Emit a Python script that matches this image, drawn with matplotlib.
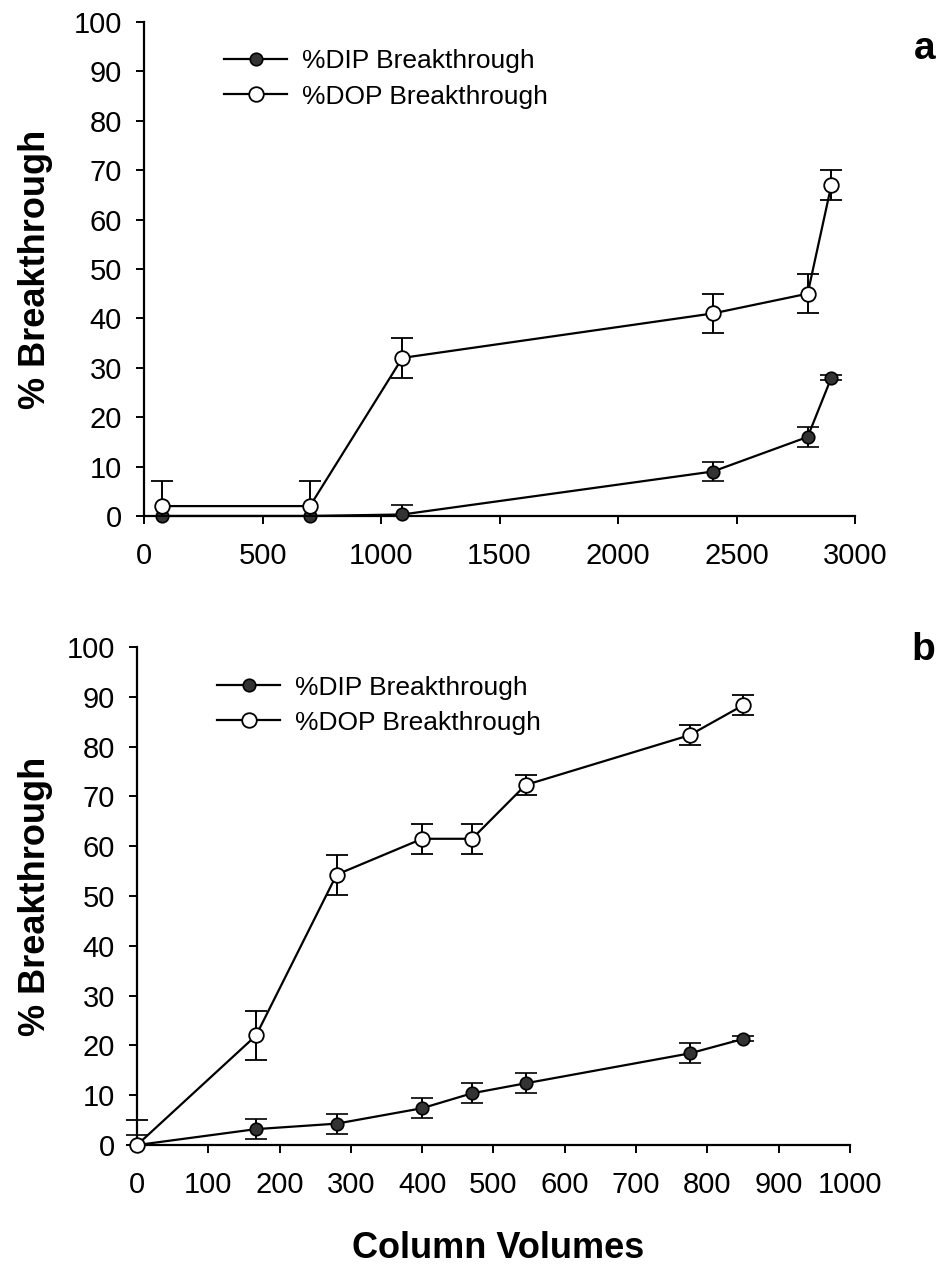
import matplotlib
matplotlib.use("Agg")
import matplotlib.pyplot as plt

# ---- data: panel a ----
a_x = [75, 700, 1090, 2400, 2800, 2900]
a_dip_y = [0, 0, 0.3, 9, 16, 28]
a_dip_err = [0, 0, 2, 2, 2, 0.5]
a_dop_y = [2, 2, 32, 41, 45, 67]
a_dop_err = [5, 5, 4, 4, 4, 3]

# ---- data: panel b ----
b_x = [0, 167, 280, 400, 470, 545, 775, 850]
b_dip_y = [0, 3.2, 4.3, 7.4, 10.4, 12.4, 18.4, 21.3]
b_dip_err = [2, 2, 2, 2, 2, 2, 2, 0.5]
b_dop_y = [0, 22, 54.3, 61.5, 61.5, 72.3, 82.3, 88.3]
b_dop_err = [5, 5, 4, 3, 3, 2, 2, 2]

a_xticks = [0, 500, 1000, 1500, 2000, 2500, 3000]
b_xticks = [0, 100, 200, 300, 400, 500, 600, 700, 800, 900, 1000]
yticks = [0, 10, 20, 30, 40, 50, 60, 70, 80, 90, 100]

labels = ["%DIP Breakthrough", "%DOP Breakthrough"]
ylabel = "% Breakthrough"
xlabel = "Column Volumes"

tickfont = "Liberation Sans"
boldfont = "Liberation Sans"

fig = plt.figure(figsize=(9.39, 12.64), dpi=100)
ax1 = fig.add_axes([0.1534, 0.5918, 0.7572, 0.3908])
ax2 = fig.add_axes([0.1459, 0.0941, 0.7593, 0.3940])


def style(ax, xlim, xticks, ylab_x):
    ax.set_xlim(*xlim)
    ax.set_ylim(0, 100)
    ax.set_xticks(xticks)
    ax.set_yticks(yticks)
    for s in ["top", "right"]:
        ax.spines[s].set_visible(False)
    for s in ["left", "bottom"]:
        ax.spines[s].set_linewidth(1.6)
    ax.tick_params(direction="out", length=6, width=1.4, labelsize=21)
    ax.tick_params(axis="x", pad=13)
    ax.tick_params(axis="y", pad=10)
    for lab in ax.get_xticklabels() + ax.get_yticklabels():
        lab.set_fontfamily(tickfont)
    ax.set_ylabel(ylabel, fontsize=26, fontweight="bold", family=boldfont)
    ax.yaxis.set_label_coords(ylab_x, 0.5)


def lower(vals, errs):
    return [min(v, e) for v, e in zip(vals, errs)]


def draw(ax, x, dy, de, oy, oe, legxy):
    l1 = ax.errorbar(x, dy, yerr=[lower(dy, de), de], color="black", lw=1.6,
                     marker="o", ms=9, mfc="#333333", mec="black", mew=1.2,
                     capsize=8, elinewidth=1.4, capthick=1.4, clip_on=False,
                     zorder=3)
    l2 = ax.errorbar(x, oy, yerr=[lower(oy, oe), oe], color="black", lw=1.6,
                     marker="o", ms=10.5, mfc="white", mec="black", mew=1.3,
                     capsize=8, elinewidth=1.4, capthick=1.4, clip_on=False,
                     zorder=4)
    ax.legend(handles=[l1[0], l2[0]], labels=labels, loc="center left",
              bbox_to_anchor=legxy, frameon=False, borderpad=0,
              borderaxespad=0, prop={"family": tickfont, "size": 19},
              handlelength=2.4, handletextpad=0.55, labelspacing=0.42)


style(ax1, (0, 3000), a_xticks, -0.128)
draw(ax1, a_x, a_dip_y, a_dip_err, a_dop_y, a_dop_err, (0.1125, 0.8846))
style(ax2, (0, 1000), b_xticks, -0.118)
draw(ax2, b_x, b_dip_y, b_dip_err, b_dop_y, b_dop_err, (0.1122, 0.8835))
ax2.set_xlabel(xlabel, fontsize=26, fontweight="bold", family=boldfont)
ax2.xaxis.set_label_coords(0.507, -0.172)

fig.text(0.996, 0.961, "a", fontsize=28, fontweight="bold", family=boldfont,
         ha="right", va="center")
fig.text(0.996, 0.486, "b", fontsize=28, fontweight="bold", family=boldfont,
         ha="right", va="center")

fig.savefig("out.png", dpi=100)
